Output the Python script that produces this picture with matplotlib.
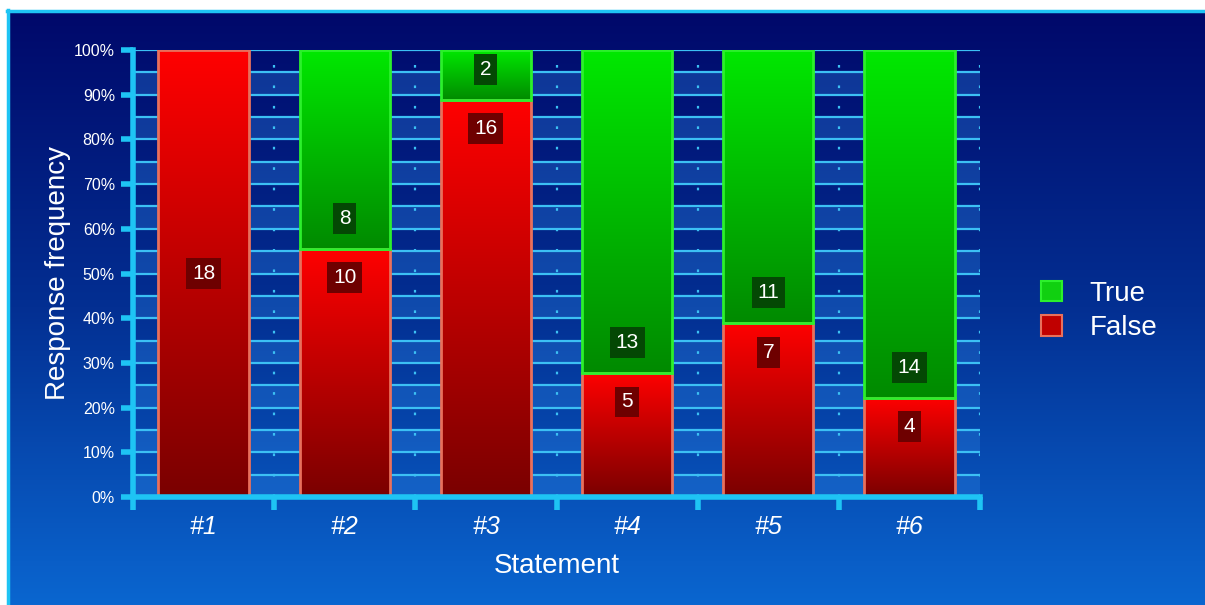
import numpy as np
import matplotlib
matplotlib.use("Agg")
import matplotlib.pyplot as plt
from matplotlib.colors import LinearSegmentedColormap
from matplotlib.patches import Patch

plt.rcParams['font.family'] = ['Liberation Sans', 'DejaVu Sans']

statements = ['#1', '#2', '#3', '#4', '#5', '#6']
false_counts = [18, 10, 16, 5, 7, 4]
true_counts = [0, 8, 2, 13, 11, 14]

false_arr = np.array(false_counts, dtype=float)
true_arr = np.array(true_counts, dtype=float)
total = false_arr + true_arr
false_pct = false_arr / total * 100
true_pct = true_arr / total * 100

W, H = 1205, 605
fig = plt.figure(figsize=(W / 100, H / 100), dpi=100)
fig.patch.set_facecolor('white')

# background gradient panel
bg = fig.add_axes([7 / W, 0, 1 - 7 / W, (H - 10) / H], zorder=0)
bg_cmap = LinearSegmentedColormap.from_list('bg', ['#00086a', '#032f92', '#0a66d0'])
bg.imshow(np.linspace(0, 1, 256).reshape(-1, 1), cmap=bg_cmap, aspect='auto',
          extent=(0, 1, 0, 1), origin='upper')
bg.set_xlim(0, 1)
bg.set_ylim(0, 1)
bg.axis('off')
fig.add_artist(plt.Line2D([7 / W, 1], [(H - 11) / H, (H - 11) / H], color='#1ec4f4', lw=2.5))
fig.add_artist(plt.Line2D([8 / W, 8 / W], [0, (H - 10) / H], color='#1ec4f4', lw=2.5))

ax = fig.add_axes([133 / W, 108 / H, 847 / W, 447 / H], zorder=1)
ax.patch.set_alpha(0)

x = np.arange(len(statements))

# alternating bands and grid lines
for lo in range(0, 100, 10):
    ax.axhspan(lo, lo + 5, color='#2a80e0', alpha=0.35, lw=0, zorder=0)
for g in range(5, 105, 5):
    ax.axhline(g, color='#3cc0f4', lw=1.6, zorder=1)
for b in np.arange(0.5, len(statements), 1.0):
    ax.axvline(b, color='#3cc0f4', lw=1.6, ls=(0, (1.2, 8)), zorder=1)

red_cmap = LinearSegmentedColormap.from_list('red', ['#ff0000', '#7a0000'])
green_cmap = LinearSegmentedColormap.from_list('green', ['#00e800', '#008a00'])
grad = np.linspace(0, 1, 256).reshape(-1, 1)
width = 0.64


def gradient_bars(bottoms, heights, cmap, edge):
    bars = ax.bar(x, heights, width, bottom=bottoms, color='none',
                  edgecolor=edge, lw=2, zorder=3)
    for bar, b, h in zip(bars, bottoms, heights):
        if h <= 0:
            bar.set_visible(False)
            continue
        im = ax.imshow(grad, cmap=cmap, aspect='auto', origin='upper',
                       extent=(bar.get_x(), bar.get_x() + width, b, b + h), zorder=2)
        im.set_clip_path(bar)
    return bars


gradient_bars(np.zeros(len(x)), false_pct, red_cmap, '#e8705c')
gradient_bars(false_pct, true_pct, green_cmap, '#2cf02c')
ax.set_xlim(-0.5, len(statements) - 0.5)
ax.set_ylim(0, 100)

# value labels
for i in range(len(x)):
    if true_arr[i] == 0:
        fy = false_pct[i] / 2
    else:
        fy = false_pct[i] - 6.5
    ax.text(x[i], fy, f'{false_counts[i]}', ha='center', va='center', color='white',
            fontsize=15, zorder=5,
            bbox=dict(boxstyle='square,pad=0.28', fc='#6e0000', ec='none'))
    if true_arr[i] > 0:
        ax.text(x[i], false_pct[i] + 6.8, f'{true_counts[i]}', ha='center', va='center',
                color='white', fontsize=15, zorder=5,
                bbox=dict(boxstyle='square,pad=0.28', fc='#044804', ec='none'))

# axes styling
for s in ['top', 'right']:
    ax.spines[s].set_visible(False)
for s in ['left', 'bottom']:
    ax.spines[s].set_color('#1ec4f4')
    ax.spines[s].set_linewidth(4)
    ax.spines[s].set_zorder(6)

ax.set_yticks(range(0, 101, 10))
ax.set_yticklabels([f'{v}%' for v in range(0, 101, 10)])
ax.tick_params(axis='y', colors='#1ec4f4', length=9, width=4, labelcolor='white',
               labelsize=11.5, pad=4)
ax.set_xticks(np.arange(-0.5, len(statements), 1.0))
ax.set_xticklabels([])
ax.tick_params(axis='x', colors='#1ec4f4', length=9, width=4)
for i, lab in enumerate(statements):
    ax.text(x[i], -6.7, lab, ha='center', va='center', color='white', fontsize=18,
            style='italic')

ax.set_ylabel('Response frequency', color='white', fontsize=20, labelpad=2)
ax.set_xlabel('Statement', color='white', fontsize=20, labelpad=28)

handles = [Patch(facecolor='#10d010', edgecolor='#2cf02c', lw=1.5),
           Patch(facecolor='#c00000', edgecolor='#e8705c', lw=1.5)]
leg = fig.legend(handles, ['True', 'False'], loc='center left',
                 bbox_to_anchor=(1016 / W, 1 - 311 / H), frameon=False,
                 fontsize=20, labelcolor='white', handlelength=0.75, handleheight=0.75,
                 handletextpad=1.0, labelspacing=0.3)

fig.savefig('out.png', dpi=100)
